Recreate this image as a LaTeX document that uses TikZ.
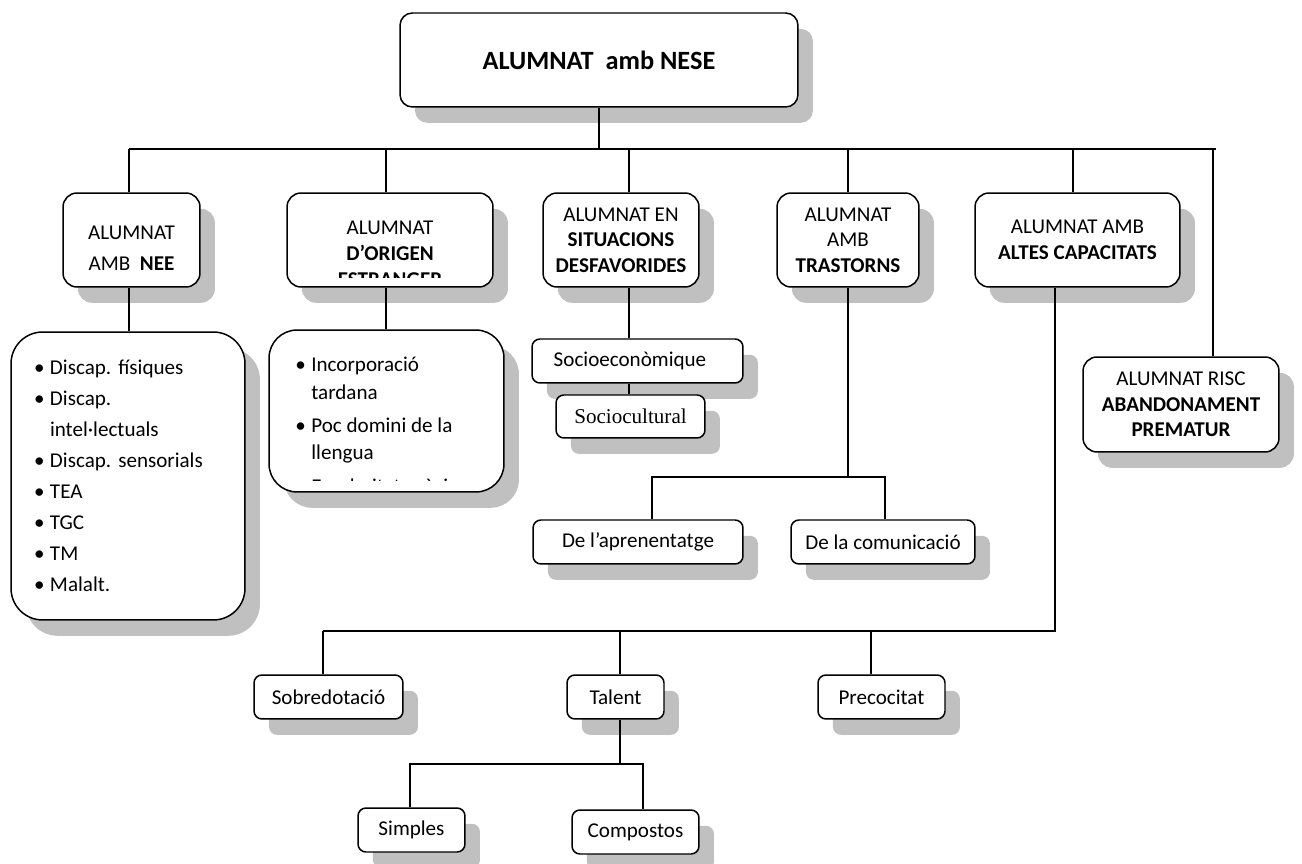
\documentclass[tikz,border=0pt]{standalone}
\usepackage{fontspec}
\setmainfont{Carlito}
\newfontfamily\timesfont{Liberation Serif}
\usepackage{tikz}
\usetikzlibrary{shadows}
\definecolor{shadegray}{HTML}{C0C0C0}
\newcommand{\itembul}{\makebox[0.32cm][l]{\textbullet}}

\begin{document}
\begin{tikzpicture}[x=0.02cm, y=-0.02cm,
    box/.style={draw, fill=white, line width=0.85pt, rounded corners=8pt, inner sep=0pt, align=center,
      font=\fontsize{12}{14.6}\selectfont,
      drop shadow={shadow xshift=8.5pt, shadow yshift=-9pt, fill=shadegray, opacity=1}},
    level/.style={box, minimum height=1.88cm},
    small/.style={box, rounded corners=4.5pt, minimum height=0.88cm},
    list/.style={box, rounded corners=18pt},
    txt/.style={align=center, inner sep=0pt, font=\fontsize{12}{14.8}\selectfont},
    link/.style={line width=0.75pt}]
  \useasboundingbox (0,0) rectangle (1302,864);

  % root
  \node[box, rounded corners=7pt, minimum width=7.96cm, minimum height=1.88cm,
        font=\fontsize{15}{18}\selectfont\bfseries] (nese) at (599,60) {ALUMNAT~~amb NESE};

  % first level
  \node[level, minimum width=2.74cm] (nee) at (131.5,240) {};
  \node[txt, font=\fontsize{12}{17.5}\selectfont] (neetitle) at (131.5,248) {ALUMNAT\\AMB~~\textbf{NEE}};
  \node[level, minimum width=4.12cm] (estr) at (390,240) {};
  \begin{scope}
    \clip (287,193) rectangle (493,278);
    \node[txt] (estrtitle) at (390,254) {ALUMNAT\\\textbf{D’ORIGEN}\\\textbf{ESTRANGER}};
  \end{scope}
  \node[level, minimum width=3.12cm] (desfav) at (621,240) {ALUMNAT EN\\\textbf{SITUACIONS}\\\textbf{DESFAVORIDES}};
  \node[level, minimum width=2.84cm] (trast) at (848,240) {ALUMNAT\\AMB\\\textbf{TRASTORNS}};
  \node[level, minimum width=4.10cm] (altes) at (1077.5,240) {ALUMNAT AMB\\\textbf{ALTES CAPACITATS}};
  \node[level, minimum width=3.92cm, minimum height=1.90cm] (risc) at (1181,404.5)
    {ALUMNAT RISC\\\textbf{ABANDONAMENT}\\\textbf{PREMATUR}};

  % lists
  \node[list, minimum width=4.68cm, minimum height=5.76cm, text width=3.76cm, align=left,
        font=\fontsize{12}{17.6}\selectfont] (neelist) at (128,476)
    {\itembul Discap.\ físiques\\\itembul Discap.\\\hspace*{0.32cm}intel·lectuals\\\itembul Discap.\ sensorials\\
     \itembul TEA\\\itembul TGC\\\itembul TM\\\itembul Malalt.};
  \node[list, rounded corners=16pt, minimum width=4.70cm, minimum height=3.24cm] (estrlist) at (386.5,411) {};
  \begin{scope}
    \clip (269,330) rectangle (504,481);
    \node[anchor=north west, inner sep=0pt, align=left, font=\fontsize{12}{15.5}\selectfont] (estrtext) at (295,357)
      {\itembul Incorporació\\\hspace*{0.32cm}tardana\\[3.5pt]\itembul Poc domini de la\\\hspace*{0.32cm}llengua\\[3.5pt]
       \itembul Escolaritat prèvia};
  \end{scope}

  % second level
  \node[small, minimum width=4.22cm] (socioec) at (637.5,361) {Socioeconòmique\hspace*{0.3cm}};
  \node[small, minimum width=2.98cm, minimum height=0.86cm, font=\timesfont\fontsize{12}{14}\selectfont]
    (sociocult) at (630.5,416.5) {Sociocultural};
  \node[small, minimum width=4.20cm] (apr) at (638,542) {De l’aprenentatge};
  \node[small, minimum width=3.68cm] (com) at (883,542) {De la comunicació};
  \node[small, minimum width=2.98cm] (sobre) at (328.5,697) {Sobredotació};
  \node[small, minimum width=1.94cm] (talent) at (615.5,697) {Talent};
  \node[small, minimum width=2.54cm] (precoc) at (881.5,697) {Precocitat};
  \node[small, minimum width=2.14cm] (simples) at (411.5,830) {Simples};
  \node[small, minimum width=2.54cm] (compostos) at (635.5,832) {Compostos};

  % connectors
  \coordinate (b1) at (129,149);
  \coordinate (b2) at (386,149);
  \coordinate (b3) at (629,149);
  \coordinate (b4) at (848,149);
  \coordinate (b5) at (1073,149);
  \coordinate (b6) at (1213,149);
  \draw[link] (nese.south) -- (nese.south |- b1);
  \draw[link] (b1) -- (b6) -- ++(3,0);
  \foreach \n/\b in {nee/b1, estr/b2, desfav/b3, trast/b4, altes/b5, risc/b6}
    \draw[link] (\b) -- (\n.north -| \b);

  \draw[link] (nee.south -| b1) -- (neelist.north -| b1);
  \draw[link] (estr.south -| b2) -- (estrlist.north -| b2);
  \draw[link] (desfav.south -| b3) -- (socioec.north -| b3);
  \draw[link] (socioec.south -| b3) -- (sociocult.north -| b3);

  \coordinate (t1) at (652,477);
  \coordinate (t2) at (885,477);
  \draw[link] (trast.south) -- (trast.south |- t1);
  \draw[link] (apr.north -| t1) |- (t2) -- (com.north -| t2);

  \coordinate (c0) at (1055,631);
  \coordinate (c1) at (323,631);
  \coordinate (c2) at (620,631);
  \coordinate (c3) at (871,631);
  \draw[link] (altes.south -| c0) -- (c0) -- (c1);
  \foreach \n/\c in {sobre/c1, talent/c2, precoc/c3}
    \draw[link] (\c) -- (\n.north -| \c);

  \coordinate (d1) at (410,764);
  \coordinate (d2) at (643,764);
  \draw[link] (talent.south -| c2) -- (c2 |- d1);
  \draw[link] (simples.north -| d1) |- (d2) -- (compostos.north -| d2);
\end{tikzpicture}
\end{document}
